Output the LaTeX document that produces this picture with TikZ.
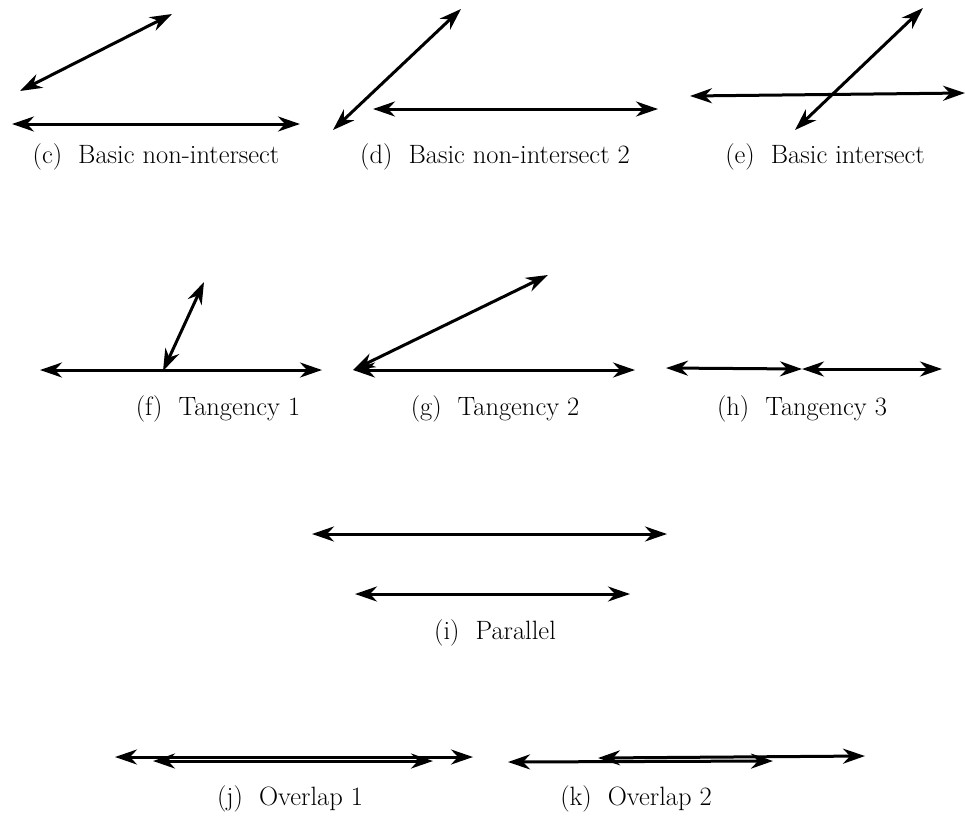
\documentclass[tikz,border=0pt]{standalone}
\usetikzlibrary{arrows.meta,positioning}

\begin{document}
\begin{tikzpicture}[
    x=1pt, y=-1pt,
    >={Stealth[length=22pt, width=15pt, inset=7pt]},
    seg/.style={<->, line width=3pt},
    sublabel/.style={font=\fontsize{26.5}{31}\selectfont, inner sep=0pt},
    ]
\useasboundingbox (0,0) rectangle (965,817);

% (c) basic non-intersect
\coordinate (cA1) at (20,91);   \coordinate (cA2) at (172,14);
\coordinate (cB1) at (12,124);  \coordinate (cB2) at (300,124);
\draw[seg] (cA1) -- (cA2);
\draw[seg] (cB1) -- (cB2);
\node[sublabel] (capc) at (156,157) {(c)~ Basic non-intersect};

% (d) basic non-intersect 2
\coordinate (dA1) at (333,130); \coordinate (dA2) at (461,9);
\coordinate (dB1) at (373,109); \coordinate (dB2) at (658,109);
\draw[seg] (dA1) -- (dA2);
\draw[seg] (dB1) -- (dB2);
\node[sublabel] (capd) at (495,157) {(d)~ Basic non-intersect 2};

% (e) basic intersect
\coordinate (eA1) at (690,96);  \coordinate (eA2) at (965,93);
\coordinate (eB1) at (795,130); \coordinate (eB2) at (923,8);
\draw[seg] (eA1) -- (eA2);
\draw[seg] (eB1) -- (eB2);
\node[sublabel] (cape) at (825,157) {(e)~ Basic intersect};

% (f) tangency 1
\coordinate (fA1) at (40,370);  \coordinate (fA2) at (322,370);
\coordinate (fB1) at (163,371); \coordinate (fB2) at (204,282);
\draw[seg] (fA1) -- (fA2);
\draw[seg] (fB1) -- (fB2);
\node[sublabel] (capf) at (218,409) {(f)~ Tangency 1};

% (g) tangency 2
\coordinate (gO) at (353,370);
\coordinate (gA) at (548,275);  \coordinate (gB) at (635,370);
\draw[seg] (gO) -- (gA);
\draw[seg] (gO) -- (gB);
\node[sublabel] (capg) at (495,409) {(g)~ Tangency 2};

% (h) tangency 3
\coordinate (hL) at (666,368);  \coordinate (hM) at (802,369);
\coordinate (hR) at (942,369);
\draw[seg] (hL) -- (hM);
\draw[seg] (hM) -- (hR);
\node[sublabel] (caph) at (802,409) {(h)~ Tangency 3};

% (i) parallel
\coordinate (iA1) at (312,534); \coordinate (iA2) at (667,534);
\coordinate (iB1) at (355,594); \coordinate (iB2) at (630,594);
\draw[seg] (iA1) -- (iA2);
\draw[seg] (iB1) -- (iB2);
\node[sublabel] (capi) at (495,633) {(i)~ Parallel};

% (j) overlap 1
\coordinate (jA1) at (115,757); \coordinate (jA2) at (473,757);
\coordinate (jB1) at (153,761); \coordinate (jB2) at (433,761);
\draw[seg] (jA1) -- (jA2);
\draw[seg] (jB1) -- (jB2);
\node[sublabel] (capj) at (290,799) {(j)~ Overlap 1};

% (k) overlap 2
\coordinate (kA1) at (508,762); \coordinate (kA2) at (773,761);
\coordinate (kB1) at (598,758); \coordinate (kB2) at (865,756);
\draw[seg] (kA1) -- (kA2);
\draw[seg] (kB1) -- (kB2);
\node[sublabel] (capk) at (636,799) {(k)~ Overlap 2};

\end{tikzpicture}
\end{document}
